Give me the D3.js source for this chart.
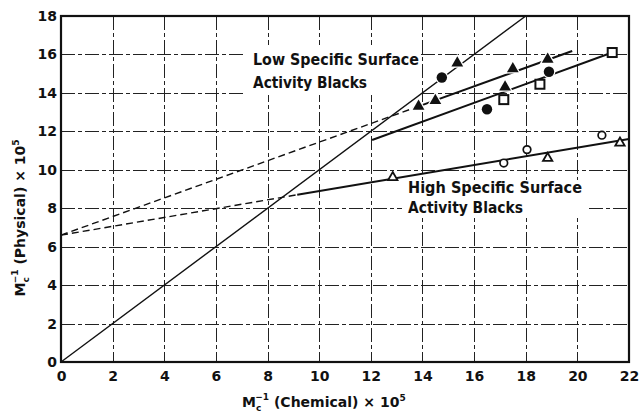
<!DOCTYPE html>
<html>
<head>
<meta charset="utf-8">
<script src="https://cdn.jsdelivr.net/npm/d3@7"></script>
<style>
  body { margin: 0; background: #fff; }
  .svg-container { position: relative; width: 640px; height: 414px; }
  .svg-container svg { position: absolute; left: 0; top: 0; }
  text { font-family: "DejaVu Sans", sans-serif; font-weight: bold; fill: #111; }
</style>
</head>
<body>
<div class="svg-container"></div>
<script>
//Data (x = chemical, y = physical, both x 10^5)
const xTicks = [0, 2, 4, 6, 8, 10, 12, 14, 16, 18, 20, 22];
const yTicks = [0, 2, 4, 6, 8, 10, 12, 14, 16, 18];

//low specific surface activity blacks
const lowTriangles = [[13.85, 13.3], [14.5, 13.6], [15.35, 15.55], [17.2, 14.3], [17.5, 15.25], [18.85, 15.75]];
const lowCircles = [[14.75, 14.8], [16.5, 13.15], [18.9, 15.1]];
const lowSquares = [[17.15, 13.65], [18.55, 14.45], [21.35, 16.1]];

//high specific surface activity blacks
const highTriangles = [[12.85, 9.6], [18.85, 10.6], [21.65, 11.4]];
const highCircles = [[17.15, 10.35], [18.05, 11.05], [20.95, 11.8]];

//fitted lines
const diagonal = [[0, 0], [18, 18]];
const lowUpperDash = [[0, 6.6], [13.85, 13.3]];
const lowUpperSolid = [[13.85, 13.3], [19.8, 16.18]];
const lowLower = [[12.05, 11.55], [21.35, 16.1]];
const highDash = [[0, 6.6], [9.15, 8.7]];
const highSolid = [[9.15, 8.7], [22, 11.6]];

//Margin convention
const margin = {top: 16, right: 11, bottom: 52, left: 61};
const width = 640 - margin.left - margin.right;
const height = 414 - margin.top - margin.bottom;

const xScale = d3.scaleLinear().domain([0, 22]).range([0, width]);
const yScale = d3.scaleLinear().domain([0, 18]).range([height, 0]);

//Grid gets its own svg layer underneath the chart
function drawGrid(target) {
    const g = target.append('g').attr('class', 'gridlines');
    g.selectAll('line.gx')
        .data(xTicks.slice(1, -1))
        .join('line')
        .attr('class', 'gx')
        .attr('x1', d => Math.round(xScale(d)) + 0.5).attr('x2', d => Math.round(xScale(d)) + 0.5)
        .attr('y1', 0).attr('y2', height)
        .attr('stroke', '#222').attr('stroke-width', 1)
        .attr('stroke-dasharray', '14,3,4,3');
    g.selectAll('line.gy')
        .data(yTicks.slice(1, -1))
        .join('line')
        .attr('class', 'gy')
        .attr('x1', 0).attr('x2', width)
        .attr('y1', d => Math.round(yScale(d)) + 0.5).attr('y2', d => Math.round(yScale(d)) + 0.5)
        .attr('stroke', '#222').attr('stroke-width', 1)
        .attr('stroke-dasharray', '14,3,4,3');
}

const gridSvg = d3.select('.svg-container')
    .append('svg')
    .attr('width', 640)
    .attr('height', 414)
    .append('g')
    .attr('transform', `translate(${margin.left}, ${margin.top})`);
drawGrid(gridSvg);

const svg = d3.select('.svg-container')
    .append('svg')
    .attr('width', width + margin.left + margin.right)
    .attr('height', height + margin.top + margin.bottom)
    .append('g')
    .attr('transform', `translate(${margin.left}, ${margin.top})`);

//same grid again in the main layer, in case the back layer is lost
drawGrid(svg);

const line = d3.line().x(d => xScale(d[0])).y(d => yScale(d[1]));

//Label boxes knock out the grid
function addLabel(lines, x, y, gap, len, box) {
    const g = svg.append('g');
    g.append('rect').attr('fill', '#fff')
        .attr('x', box[0] - margin.left).attr('y', box[1] - margin.top)
        .attr('width', box[2]).attr('height', box[3]);
    const t = g.append('text').attr('font-size', 16);
    lines.forEach((s, i) => {
        t.append('tspan')
            .attr('x', x - margin.left).attr('y', y - margin.top + i * gap)
            .attr('textLength', len[i]).attr('lengthAdjust', 'spacingAndGlyphs')
            .text(s);
    });
}

addLabel(['Low Specific Surface', 'Activity Blacks'], 253, 65, 23, [166, 114], [245, 45, 176, 50]);
addLabel(['High Specific Surface', 'Activity Blacks'], 408, 193, 20, [174, 115], [402, 180, 186, 38]);

//Fitted lines
svg.append('path').datum(diagonal).attr('d', line)
    .attr('fill', 'none').attr('stroke', '#111').attr('stroke-width', 1.4);

[lowUpperDash, highDash].forEach(seg => {
    svg.append('path').datum(seg).attr('d', line)
        .attr('fill', 'none').attr('stroke', '#111').attr('stroke-width', 1.4)
        .attr('stroke-dasharray', '7,4');
});

[lowUpperSolid, lowLower, highSolid].forEach(seg => {
    svg.append('path').datum(seg).attr('d', line)
        .attr('fill', 'none').attr('stroke', '#111').attr('stroke-width', 2);
});

//Markers
const tri = d3.symbol().type(d3.symbolTriangle);

svg.append('g').selectAll('path.ltri')
    .data(lowTriangles).join('path')
    .attr('class', 'ltri')
    .attr('d', tri.size(60)())
    .attr('transform', d => `translate(${xScale(d[0])}, ${yScale(d[1])})`)
    .attr('fill', '#111').attr('stroke', '#fff').attr('stroke-width', 2.5)
    .style('paint-order', 'stroke');

svg.append('g').selectAll('circle.lcirc')
    .data(lowCircles).join('circle')
    .attr('class', 'lcirc')
    .attr('cx', d => xScale(d[0])).attr('cy', d => yScale(d[1]))
    .attr('r', 5.2)
    .attr('fill', '#111').attr('stroke', '#fff').attr('stroke-width', 2.5)
    .style('paint-order', 'stroke');

svg.append('g').selectAll('rect.lsq')
    .data(lowSquares).join('rect')
    .attr('class', 'lsq')
    .attr('x', d => xScale(d[0]) - 4.5).attr('y', d => yScale(d[1]) - 4.5)
    .attr('width', 9).attr('height', 9)
    .attr('fill', '#fff').attr('stroke', '#111').attr('stroke-width', 2);

svg.append('g').selectAll('path.htri')
    .data(highTriangles).join('path')
    .attr('class', 'htri')
    .attr('d', tri.size(38)())
    .attr('transform', d => `translate(${xScale(d[0])}, ${yScale(d[1])})`)
    .attr('fill', '#fff').attr('stroke', '#111').attr('stroke-width', 1.8);

svg.append('g').selectAll('circle.hcirc')
    .data(highCircles).join('circle')
    .attr('class', 'hcirc')
    .attr('cx', d => xScale(d[0])).attr('cy', d => yScale(d[1]))
    .attr('r', 3.8)
    .attr('fill', '#fff').attr('stroke', '#111').attr('stroke-width', 1.7);

//Frame
svg.append('rect')
    .attr('x', 0).attr('y', 0).attr('width', width).attr('height', height)
    .attr('fill', 'none').attr('stroke', '#111').attr('stroke-width', 2.2);

//Axes (labels only, grid already drawn)
const xAxis = d3.axisBottom(xScale).tickValues(xTicks).tickSize(0).tickPadding(9);
svg.append('g')
    .attr('class', 'x axis')
    .attr('transform', `translate(0, ${height})`)
    .call(xAxis)
    .call(g => g.select('.domain').remove())
    .selectAll('text')
    .attr('font-size', 14).attr('font-family', '"DejaVu Sans", sans-serif').attr('fill', '#111');

const yAxis = d3.axisLeft(yScale).tickValues(yTicks).tickSize(0).tickPadding(4);
svg.append('g')
    .attr('class', 'y axis')
    .call(yAxis)
    .call(g => g.select('.domain').remove())
    .selectAll('text')
    .attr('font-size', 14).attr('font-family', '"DejaVu Sans", sans-serif').attr('fill', '#111');

//Axis titles
function mcTitle(t, word) {
    t.append('tspan').text('M');
    t.append('tspan').attr('font-size', 9).attr('dy', 4).text('c');
    t.append('tspan').attr('font-size', 9).attr('dx', -6).attr('dy', -11).text('−1');
    t.append('tspan').attr('dy', 7).text(` (${word}) × 10`);
    t.append('tspan').attr('font-size', 9).attr('dy', -6).text('5');
}

const xlabel = svg.append('text')
    .attr('font-size', 14)
    .attr('x', 242 - margin.left).attr('y', 407 - margin.top);
mcTitle(xlabel, 'Chemical');

const ylabel = svg.append('text')
    .attr('font-size', 14)
    .attr('text-anchor', 'middle')
    .attr('transform', `translate(${25 - margin.left}, ${218 - margin.top}) rotate(-90)`);
mcTitle(ylabel, 'Physical');
</script>
</body>
</html>
